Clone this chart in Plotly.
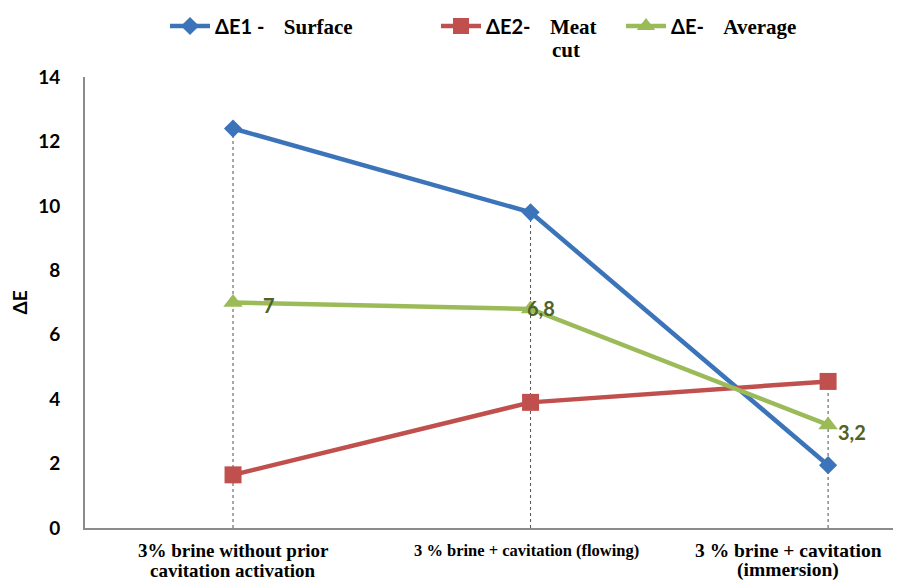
import plotly.graph_objects as go

categories = ["3% brine without prior<br>cavitation activation",
              "3 % brine + cavitation (flowing)",
              "3 % brine + cavitation<br>(immersion)"]
de1_surface = [12.4, 9.8, 1.95]
de2_meat_cut = [1.65, 3.9, 4.55]
de_average = [7.0, 6.8, 3.2]
y_ticks = [0, 2, 4, 6, 8, 10, 12, 14]

x = list(range(len(categories)))
SANS = "Lato, 'Open Sans', sans-serif"
SERIF = "Liberation Serif"
NB = "&nbsp;"


def leg(a, gap, b):
    return f'{a}{NB * gap}<span style="font-family:{SERIF};font-size:21px">{b}</span>'


fig = go.Figure()
fig.add_trace(go.Scatter(
    x=x, y=de1_surface, mode="lines+markers", name=leg("ΔE1 -", 4, "Surface"),
    line=dict(color="#3C74B9", width=4.5), legend="legend",
    marker=dict(symbol="diamond", size=14, color="#3C74B9")))
fig.add_trace(go.Scatter(
    x=x, y=de2_meat_cut, mode="lines+markers", name=leg("ΔE2-", 4, "Meat"),
    line=dict(color="#C0504D", width=4.5), legend="legend2",
    marker=dict(symbol="square", size=17, color="#C0504D")))
fig.add_trace(go.Scatter(
    x=x, y=de_average, mode="lines+markers", name=leg("ΔE-", 4, "Average"),
    line=dict(color="#9BBB59", width=4.5), legend="legend3",
    marker=dict(symbol="triangle-up", size=17, color="#9BBB59")))

# drop lines from the highest point of each category
for i in x:
    top = max(de1_surface[i], de2_meat_cut[i], de_average[i])
    fig.add_shape(type="line", xref="x", yref="y", x0=i, x1=i, y0=0, y1=top,
                  line=dict(color="#505050", width=1, dash="dot"), layer="below")

# data labels for average
label_shift = [(28, -2), (-6, 1), (8, -7)]
for i in x:
    txt = f"{de_average[i]:g}".replace(".", ",")
    fig.add_annotation(x=i, y=de_average[i], text=txt, showarrow=False,
                       xanchor="left", yanchor="middle",
                       xshift=label_shift[i][0], yshift=label_shift[i][1],
                       font=dict(family=SANS, size=20, color="#4F6228", weight="bold"))

# category labels (one annotation per text line)
cat_shift = [0, -4, -40]
cat_size = [19, 16.5, 19.5]
for i in x:
    for j, line in enumerate(categories[i].split("<br>")):
        fig.add_annotation(x=i, y=0, yref="paper", text=line, showarrow=False,
                           xanchor="center", yanchor="middle",
                           yshift=-22 - 20 * j, xshift=cat_shift[i],
                           font=dict(family=SERIF, size=cat_size[i], color="black",
                                     weight="bold"))

# second line of "Meat cut" legend label
fig.add_annotation(xref="paper", yref="paper", x=(550 - 85) / 816, y=(528 - 50) / 451,
                   text="cut", showarrow=False, xanchor="left", yanchor="middle",
                   font=dict(family=SERIF, size=21, color="black", weight="bold"))

legend_common = dict(orientation="h", xref="container", yref="container",
                     xanchor="left", yanchor="middle", y=1 - 18 / 581,
                     font=dict(family=SANS, size=20, color="black", weight="bold"),
                     itemwidth=40, bgcolor="rgba(0,0,0,0)", borderwidth=0)

fig.update_layout(
    width=901, height=581,
    margin=dict(l=77, r=8, t=69, b=61, autoexpand=False),
    plot_bgcolor="white", paper_bgcolor="white",
    showlegend=True,
    legend=dict(x=157 / 901, **legend_common),
    legend2=dict(x=428 / 901, **legend_common),
    legend3=dict(x=613 / 901, **legend_common),
    hovermode=False,
)
fig.update_xaxes(range=[-0.4975, 2.245], tickvals=x, showticklabels=False,
                 showgrid=False, zeroline=False, showline=True, linecolor="#8C8C8C",
                 linewidth=2, ticks="", automargin=False)
fig.update_yaxes(range=[0, 14], tickvals=y_ticks, showgrid=False, zeroline=False,
                 showline=True, linecolor="#8C8C8C", linewidth=2, ticks="",
                 ticklabelstandoff=19, automargin=False,
                 tickfont=dict(family=SANS, size=19, color="black", weight="bold"),
                 title=dict(text="ΔE", standoff=6,
                            font=dict(family=SANS, size=19, color="black", weight="bold")))
fig.write_html("out.html")
